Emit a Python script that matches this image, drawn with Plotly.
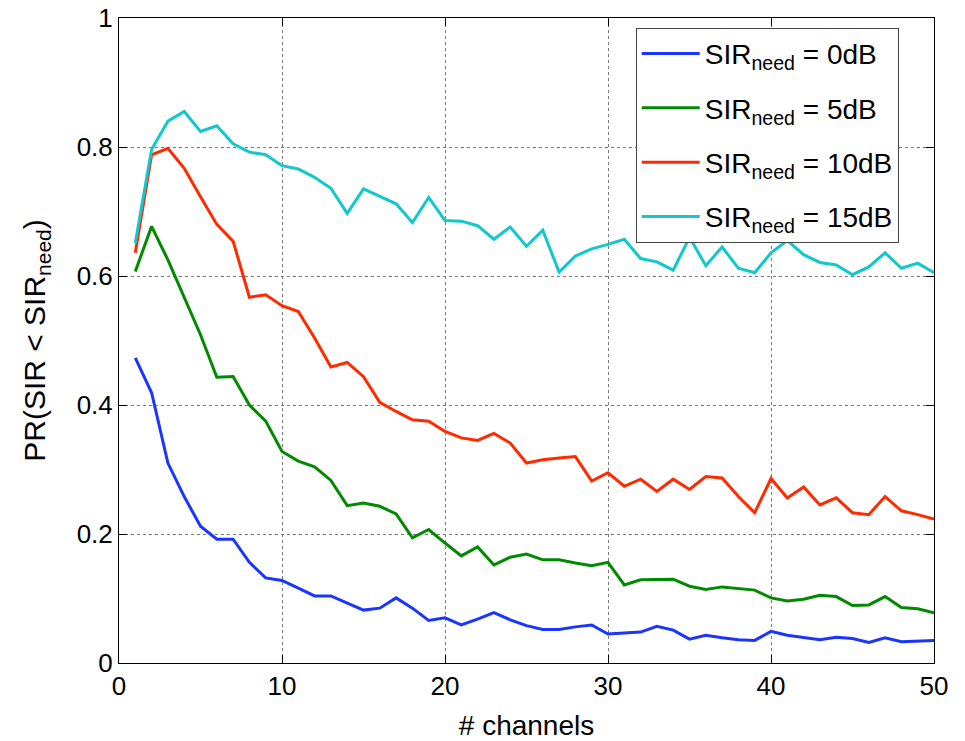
import plotly.graph_objects as go

channels = list(range(1, 51))

pr_0db = [0.473, 0.419, 0.310, 0.258, 0.212, 0.192, 0.192, 0.156, 0.132, 0.128,
          0.116, 0.104, 0.104, 0.093, 0.082, 0.085, 0.101, 0.085, 0.066, 0.070,
          0.059, 0.068, 0.078, 0.067, 0.058, 0.052, 0.052, 0.056, 0.059, 0.045,
          0.047, 0.048, 0.057, 0.051, 0.037, 0.043, 0.039, 0.036, 0.035, 0.049,
          0.043, 0.040, 0.036, 0.040, 0.038, 0.032, 0.039, 0.033, 0.034, 0.035]

pr_5db = [0.607, 0.677, 0.625, 0.566, 0.509, 0.443, 0.444, 0.400, 0.375, 0.328,
          0.313, 0.304, 0.283, 0.244, 0.248, 0.243, 0.231, 0.194, 0.207, 0.186,
          0.166, 0.180, 0.152, 0.164, 0.169, 0.160, 0.160, 0.155, 0.151, 0.156,
          0.121, 0.129, 0.130, 0.130, 0.119, 0.114, 0.118, 0.115, 0.113, 0.101,
          0.096, 0.099, 0.105, 0.103, 0.089, 0.090, 0.103, 0.086, 0.084, 0.078]

pr_10db = [0.636, 0.788, 0.798, 0.767, 0.723, 0.680, 0.654, 0.567, 0.571, 0.554,
           0.545, 0.504, 0.459, 0.466, 0.444, 0.404, 0.390, 0.377, 0.375, 0.359,
           0.349, 0.345, 0.356, 0.341, 0.310, 0.315, 0.318, 0.320, 0.282, 0.295,
           0.274, 0.285, 0.266, 0.285, 0.269, 0.289, 0.287, 0.258, 0.233, 0.286,
           0.256, 0.273, 0.245, 0.256, 0.233, 0.230, 0.258, 0.236, 0.230, 0.223]

pr_15db = [0.651, 0.796, 0.840, 0.855, 0.824, 0.833, 0.805, 0.792, 0.788, 0.771,
           0.766, 0.753, 0.736, 0.697, 0.735, 0.724, 0.712, 0.683, 0.722, 0.686,
           0.685, 0.678, 0.657, 0.676, 0.646, 0.671, 0.606, 0.631, 0.642, 0.649,
           0.657, 0.627, 0.622, 0.609, 0.660, 0.616, 0.645, 0.612, 0.605, 0.636,
           0.655, 0.633, 0.621, 0.617, 0.602, 0.614, 0.636, 0.612, 0.620, 0.605]

series_names = ["SIR<sub>need</sub> = 0dB", "SIR<sub>need</sub> = 5dB",
                "SIR<sub>need</sub> = 10dB", "SIR<sub>need</sub> = 15dB"]
series_values = [pr_0db, pr_5db, pr_10db, pr_15db]
series_colors = ["#1a35ff", "#008a00", "#ff2a00", "#12c8cc"]

x_ticks = [0, 10, 20, 30, 40, 50]
y_ticks = [0, 0.2, 0.4, 0.6, 0.8, 1]
y_tick_text = ["0", "0.2", "0.4", "0.6", "0.8", "1"]

FONT = "Liberation Sans, Arial, Helvetica, sans-serif"

fig = go.Figure()
for i, (name, vals, col) in enumerate(zip(series_names, series_values, series_colors)):
    fig.add_trace(go.Scatter(x=channels, y=vals, mode="lines", name=name,
                             legendgroup=f"g{i}",
                             line=dict(color=col, width=3)))

axis_common = dict(
    showline=True, linecolor="black", linewidth=1, mirror="ticks",
    ticks="inside", ticklen=8, tickcolor="black", tickwidth=1,
    showgrid=True, gridcolor="#7a7a7a", griddash="dot", gridwidth=1,
    zeroline=False, tickfont=dict(family=FONT, size=26, color="black"),
    automargin=False,
)

fig.update_layout(
    width=965, height=741,
    margin=dict(l=119, r=31, t=18, b=78),
    paper_bgcolor="white", plot_bgcolor="white",
    font=dict(family=FONT, color="black"),
    xaxis=dict(range=[0, 50], tickvals=x_ticks, ticktext=[str(v) for v in x_ticks],
               title=dict(text="# channels", font=dict(size=28), standoff=16),
               **axis_common),
    yaxis=dict(range=[0, 1], tickvals=y_ticks, ticktext=y_tick_text,
               title=dict(text="PR(SIR < SIR<sub>need</sub>)", font=dict(size=30), standoff=22),
               **axis_common),
    legend=dict(x=0.634, y=0.985, xanchor="left", yanchor="top",
                bgcolor="white", bordercolor="#444", borderwidth=1,
                font=dict(family=FONT, size=28, color="black"),
                tracegroupgap=15, itemwidth=58),
    showlegend=True,
)

fig.write_html("out.html")
